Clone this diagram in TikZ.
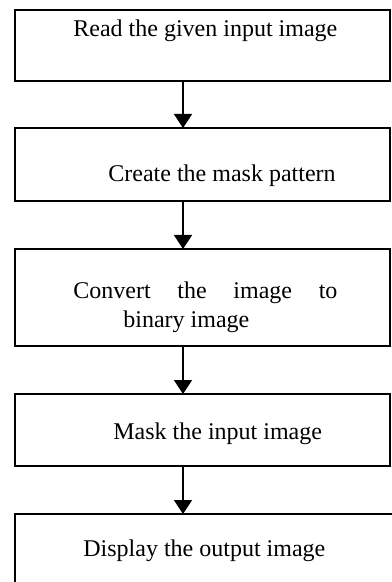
\documentclass[tikz,border=0pt]{standalone}
\usepackage{fontspec}
\setmainfont{Liberation Serif}
\usetikzlibrary{arrows.meta}
\tikzset{
	stepbox/.style n args={2}{draw, line width=0.9pt, inner sep=0pt, outer sep=0pt, minimum width=#1, minimum height=#2},
	steptext/.style={anchor=base west, inner sep=0pt, font=\fontsize{12}{14}\selectfont},
	flow/.style={line width=0.9pt, -{Triangle[width=9pt,length=7pt]}}
}

\begin{document}
\begin{tikzpicture}[x=0.5pt, y=-0.5pt]
			%%%%% START %%%%%
			\useasboundingbox (0, 0) rectangle (391, 582);
			
			\node[stepbox={187.5pt}{35.5pt}] (read) at (202.5, 45.5) {};
			\node[stepbox={187.5pt}{36.5pt}] (mask) at (202.5, 164.5) {};
			\node[stepbox={187.5pt}{48.5pt}] (binary) at (202.5, 297.5) {};
			\node[stepbox={187.5pt}{36pt}] (apply) at (202.5, 430) {};
			\node[stepbox={191.5pt}{39pt}] (show) at (206.5, 553) {};
			
			\node[steptext] (readtxt) at (73, 37) {Read the given input image};
			\node[steptext] (masktxt) at (108, 182) {Create the mask pattern};
			\node[steptext] (binarytxt) at (73, 299) {\makebox[132pt][s]{Convert the image to}};
			\node[steptext] (binarytxtb) at (123, 327) {binary image};
			\node[steptext] (applytxt) at (113, 439) {Mask the input image};
			\node[steptext] (showtxt) at (83, 556) {Display the output image};
			
			\coordinate (axis) at (183, 0);
			\draw[flow] (read.south -| axis) -- (mask.north -| axis);
			\draw[flow] (mask.south -| axis) -- (binary.north -| axis);
			\draw[flow] (binary.south -| axis) -- (apply.north -| axis);
			\draw[flow] (apply.south -| axis) -- (show.north -| axis);
			
			%%%%% END %%%%%
\end{tikzpicture}
\end{document}
